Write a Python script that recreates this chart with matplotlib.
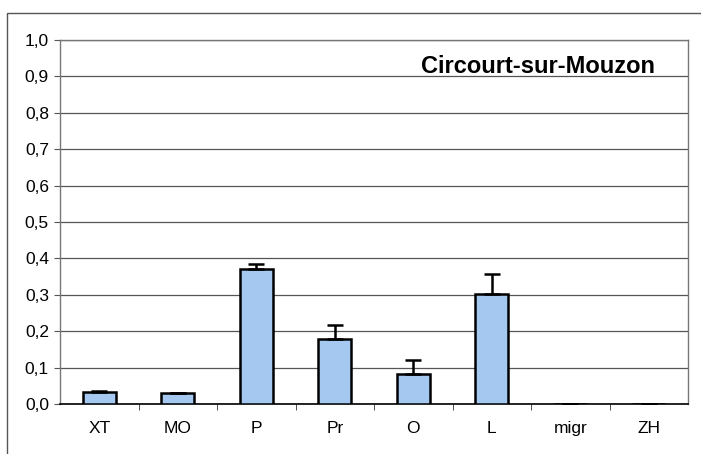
import matplotlib
matplotlib.use('Agg')
import matplotlib.pyplot as plt
from matplotlib.patches import Rectangle
from matplotlib.ticker import FuncFormatter

categories = ['XT', 'MO', 'P', 'Pr', 'O', 'L', 'migr', 'ZH']
values = [0.033, 0.030, 0.370, 0.178, 0.083, 0.302, 0.001, 0.001]
errors = [0.003, 0.0, 0.015, 0.039, 0.037, 0.055, 0.0, 0.0]
yticks = [0.0, 0.1, 0.2, 0.3, 0.4, 0.5, 0.6, 0.7, 0.8, 0.9, 1.0]

plt.rcParams['font.family'] = ['Liberation Sans', 'DejaVu Sans']

fig = plt.figure(figsize=(7.01, 4.54), dpi=100)
ax = fig.add_axes([0.0856, 0.110, 0.896, 0.802])

x = list(range(len(categories)))
ax.bar(x, values, width=0.42, color='#a4c8f0', edgecolor='black', linewidth=1.8, zorder=3)
ax.errorbar(x, values, yerr=[[0] * len(errors), errors], fmt='none', ecolor='black',
            elinewidth=1.8, capsize=6, capthick=1.8, zorder=4)

ax.set_xlim(-0.5, len(categories) - 0.5)
ax.set_ylim(0, 1.0)
ax.set_yticks(yticks)
ax.yaxis.set_major_formatter(FuncFormatter(lambda v, p: ('%.1f' % v).replace('.', ',')))
ax.yaxis.grid(True, color='#555555', linewidth=0.9, zorder=0)

ax.set_xticks(x)
ax.set_xticklabels(categories, fontsize=12.5)
ax.tick_params(axis='x', length=0, pad=12)
ax.set_xticks([i + 0.5 for i in x[:-1]], minor=True)
ax.tick_params(axis='x', which='minor', length=4, direction='out', color='#333333')
ax.tick_params(axis='y', labelsize=12.5, length=4, color='#555555', pad=4)

for side in ['top', 'right', 'left']:
    ax.spines[side].set_color('#777777')
    ax.spines[side].set_linewidth(1.0)
ax.spines['bottom'].set_color('black')
ax.spines['bottom'].set_linewidth(1.2)

ax.text(0.947, 0.926, 'Circourt-sur-Mouzon', transform=ax.transAxes, ha='right', va='center',
        fontsize=17, fontweight='bold')

fig.patches.append(Rectangle((0.010, -0.05), 1.2, 1.022, transform=fig.transFigure,
                             fill=False, edgecolor='#555555', linewidth=1.0))

fig.savefig('out.png', dpi=100)
